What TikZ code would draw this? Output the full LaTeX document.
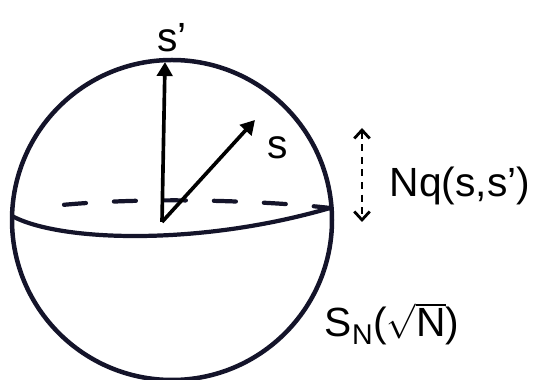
\documentclass[tikz,border=0pt]{standalone}
\usepackage{fontspec}
\setmainfont{Liberation Sans}
\usetikzlibrary{arrows.meta}
\definecolor{ink}{RGB}{20,20,42}
\tikzset{
  vec/.style={line width=2.6pt, -{Triangle[length=10pt,width=11pt]}, draw=black},
  lbl/.style={font=\fontsize{29}{31}\selectfont, text=black, inner sep=1pt}
}
\begin{document}
\begin{tikzpicture}
\useasboundingbox (0,0) rectangle (13.5,9.5);
\draw[ink, line width=3.2pt] (4.3,4.0) circle (4.0);
\draw[ink, line width=3pt] (0.3,4.1) .. controls (1.5,3.45) and (5,3.35) .. (8.25,4.3);
\draw[ink, line width=3pt, line cap=round, dash pattern=on 0.55cm off 0.7cm] (1.6,4.38) .. controls (4,4.6) and (7,4.45) .. (8.25,4.3);

\coordinate (o) at (4.05,3.95);
\coordinate (sp) at (4.125,7.95);
\coordinate (st) at (6.375,6.5);
\coordinate (top) at (9.05,6.3);
\coordinate (bot) at (9.05,3.95);

\node[lbl] (lsp) at (4.3,8.55) {s'};
\node[lbl] (lst) at (6.95,5.8) {s};
\node[lbl, anchor=west] (lnq) at (9.7,4.85) {Nq(s,s')};
\node[lbl] (lsn) at (9.8,1.4) {S\textsubscript{N}($\sqrt{\mbox{N}}$)};

\draw[vec] (o) -- (sp);
\draw[vec] (o) -- (st);
\draw[line width=2pt, dash pattern=on 5pt off 4pt, {Straight Barb[length=6pt,width=11pt]}-{Straight Barb[length=6pt,width=11pt]}] (top) -- (bot);
\end{tikzpicture}
\end{document}
